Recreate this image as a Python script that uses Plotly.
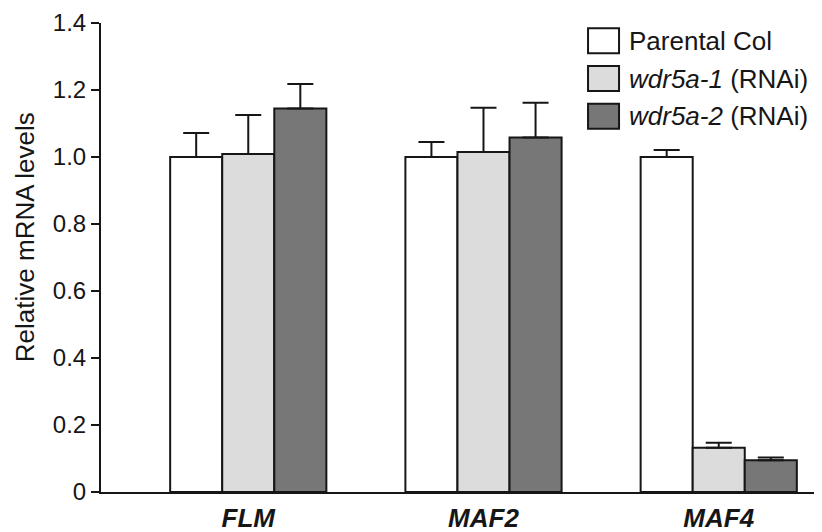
import plotly.graph_objects as go

genes = ["FLM", "MAF2", "MAF4"]
series_names = ["Parental Col", "<i>wdr5a-1</i> (RNAi)", "<i>wdr5a-2</i> (RNAi)"]
parental = [1.0, 1.0, 1.0]
parental_err = [0.072, 0.045, 0.021]
wdr5a1 = [1.009, 1.015, 0.132]
wdr5a1_err = [0.116, 0.132, 0.015]
wdr5a2 = [1.145, 1.058, 0.095]
wdr5a2_err = [0.073, 0.104, 0.008]
colors = ["#ffffff", "#dcdcdc", "#777777"]
y_ticks = [0, 0.2, 0.4, 0.6, 0.8, 1.0, 1.2, 1.4]
y_tick_labels = ["0", "0.2", "0.4", "0.6", "0.8", "1.0", "1.2", "1.4"]
y_title = "Relative mRNA levels"

values = [parental, wdr5a1, wdr5a2]
errors = [parental_err, wdr5a1_err, wdr5a2_err]
ink = "#161616"

fig = go.Figure()
for name, vals, errs, col in zip(series_names, values, errors, colors):
    fig.add_trace(go.Bar(
        x=genes, y=vals, name=name,
        marker=dict(color=col, line=dict(color=ink, width=2)),
        error_y=dict(type="data", symmetric=False, array=errs,
                     arrayminus=[0] * len(errs), color=ink,
                     thickness=2, width=13),
        showlegend=False,
    ))

# manual legend (large swatches)
lx0 = 0.6755
bw = 0.043
bh = 0.0533
ytop = 0.962
step = 0.0805
for i, (name, col) in enumerate(zip(series_names, colors)):
    yc = ytop - i * step
    fig.add_shape(type="rect", xref="paper", yref="paper",
                  x0=lx0, x1=lx0 + bw, y0=yc - bh / 2, y1=yc + bh / 2,
                  fillcolor=col, line=dict(color=ink, width=2))
    fig.add_annotation(xref="paper", yref="paper", x=0.729, y=yc,
                       text=name, showarrow=False, xanchor="left", yanchor="middle",
                       font=dict(size=26, color=ink))

# y-axis title
fig.add_annotation(xref="paper", yref="paper", x=-0.1054, y=0.5434,
                   text=y_title, textangle=-90, showarrow=False,
                   xanchor="center", yanchor="middle",
                   font=dict(size=26, color=ink))

fig.update_layout(
    width=814, height=524,
    margin=dict(l=93, r=0, t=15, b=40, autoexpand=False),
    paper_bgcolor="white", plot_bgcolor="white",
    font=dict(family="Liberation Sans, Arial, sans-serif", color=ink),
    barmode="group", bargap=0.336, bargroupgap=0,
    xaxis=dict(
        range=[-0.626, 2.439], showline=True, linecolor=ink, linewidth=2,
        ticks="", tickmode="array", tickvals=genes,
        ticktext=[f"<b><i>{g}</i></b>" for g in genes],
        tickfont=dict(size=26), showgrid=False, zeroline=False,
        ticklabelstandoff=2, automargin=False,
    ),
    yaxis=dict(
        range=[0, 1.4], showline=True, linecolor=ink, linewidth=2,
        ticks="outside", ticklen=8, tickwidth=2, tickcolor=ink,
        tickmode="array", tickvals=y_ticks, ticktext=y_tick_labels,
        tickfont=dict(size=24), showgrid=False, zeroline=False,
        automargin=False,
    ),
)

fig.write_html("out.html")
